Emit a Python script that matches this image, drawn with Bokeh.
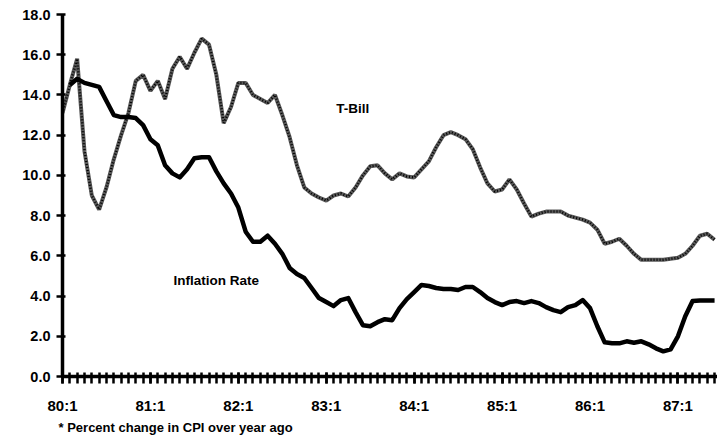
import math
from bokeh.plotting import figure
from bokeh.models import FixedTicker, NumeralTickFormatter, Label, Range1d, Title
from bokeh.embed import file_html
from bokeh.resources import INLINE

# ---- data (monthly, 1980:1 .. 1987:7) ----
months = list(range(90))
tbill = [13.1, 14.5, 15.8, 11.2, 9.0, 8.3, 9.4, 10.8, 12.0, 13.1,
         14.7, 15.0, 14.2, 14.7, 13.8, 15.3, 15.9, 15.3, 16.1, 16.8,
         16.5, 15.0, 12.6, 13.4, 14.6, 14.6, 14.0, 13.8, 13.6, 14.0,
         13.0, 11.9, 10.5, 9.4, 9.1, 8.9, 8.75, 9.0, 9.1, 8.95,
         9.4, 10.0, 10.45, 10.5, 10.1, 9.8, 10.1, 9.95, 9.9, 10.3,
         10.7, 11.4, 12.0, 12.15, 12.0, 11.8, 11.3, 10.4, 9.6, 9.2,
         9.3, 9.8, 9.3, 8.6, 7.95, 8.1, 8.2, 8.2, 8.2, 8.0,
         7.9, 7.8, 7.65, 7.3, 6.6, 6.7, 6.85, 6.5, 6.1, 5.8,
         5.8, 5.8, 5.8, 5.85, 5.9, 6.1, 6.5, 7.0, 7.1, 6.8]
inflation = [float("nan"), 14.5, 14.8, 14.6, 14.5, 14.4, 13.7, 13.0, 12.9, 12.9,
             12.85, 12.5, 11.8, 11.5, 10.5, 10.1, 9.9, 10.3, 10.85, 10.9,
             10.9, 10.2, 9.6, 9.1, 8.4, 7.2, 6.7, 6.7, 7.0, 6.6,
             6.1, 5.4, 5.1, 4.9, 4.4, 3.9, 3.7, 3.5, 3.8, 3.9,
             3.2, 2.55, 2.5, 2.7, 2.85, 2.8, 3.4, 3.85, 4.2, 4.55,
             4.5, 4.4, 4.35, 4.35, 4.3, 4.45, 4.45, 4.2, 3.9, 3.7,
             3.55, 3.7, 3.75, 3.65, 3.75, 3.65, 3.45, 3.3, 3.2, 3.45,
             3.55, 3.8, 3.4, 2.5, 1.7, 1.65, 1.65, 1.75, 1.68, 1.75,
             1.6, 1.4, 1.25, 1.35, 2.0, 3.0, 3.75, 3.78, 3.78, 3.78]
year_ticks = [0, 12, 24, 36, 48, 60, 72, 84]
year_labels = ["80:1", "81:1", "82:1", "83:1", "84:1", "85:1", "86:1", "87:1"]
y_ticks = [0, 2, 4, 6, 8, 10, 12, 14, 16, 18]
footnote = "* Percent change in CPI over year ago"

FONT = "Liberation Sans"

p = figure(width=717, height=439, output_backend="svg", toolbar_location=None,
           x_range=Range1d(0, 89.4), y_range=Range1d(0, 18),
           min_border_left=62, min_border_right=0, min_border_top=14,
           min_border_bottom=63)
p.outline_line_color = None
p.xgrid.visible = False
p.ygrid.visible = False
p.background_fill_color = "white"

# T-Bill: textured dark dotted thick line
p.line(months, tbill, line_color="#5a5a5a", line_width=4)
p.line(months, tbill, line_color="black", line_width=2.5, line_dash="1 2")
# Inflation: solid thick black
p.line(months, inflation, line_color="black", line_width=4.5, line_join="round")

p.add_layout(Label(x=39.6, y=13.35, text="T-Bill", text_align="center",
                   text_baseline="middle", text_font=FONT, text_font_size="13.5px",
                   text_font_style="bold", text_color="black"))
p.add_layout(Label(x=21.0, y=4.78, text="Inflation Rate", text_align="center",
                   text_baseline="middle", text_font=FONT, text_font_size="13.5px",
                   text_font_style="bold", text_color="black"))

xa = p.xaxis[0]
xa.ticker = FixedTicker(ticks=year_ticks, minor_ticks=months)
xa.major_label_overrides = {t: l for t, l in zip(year_ticks, year_labels)}
xa.axis_line_width = 3.5
xa.major_tick_in = 4
xa.major_tick_out = 7
xa.minor_tick_in = 4
xa.minor_tick_out = 7
xa.major_tick_line_width = 2.5
xa.minor_tick_line_width = 2.5
xa.major_label_standoff = 13
xa.major_label_text_font = FONT
xa.major_label_text_font_size = "15px"
xa.major_label_text_font_style = "bold"
xa.major_label_text_color = "black"

ya = p.yaxis[0]
ya.ticker = FixedTicker(ticks=y_ticks, minor_ticks=[])
ya.formatter = NumeralTickFormatter(format="0.0")
ya.axis_line_width = 3.5
ya.major_tick_in = 3
ya.major_tick_out = 6
ya.major_tick_line_width = 2.5
ya.minor_tick_line_color = None
ya.major_label_standoff = 6
ya.major_label_text_font = FONT
ya.major_label_text_font_size = "14.5px"
ya.major_label_text_font_style = "bold"
ya.major_label_text_color = "black"

p.add_layout(Title(text=footnote, align="left", offset=-4, text_font=FONT,
                   text_font_size="13px", text_font_style="bold",
                   text_color="black", standoff=2), "below")

open("out.html", "w").write(file_html(p, INLINE))
